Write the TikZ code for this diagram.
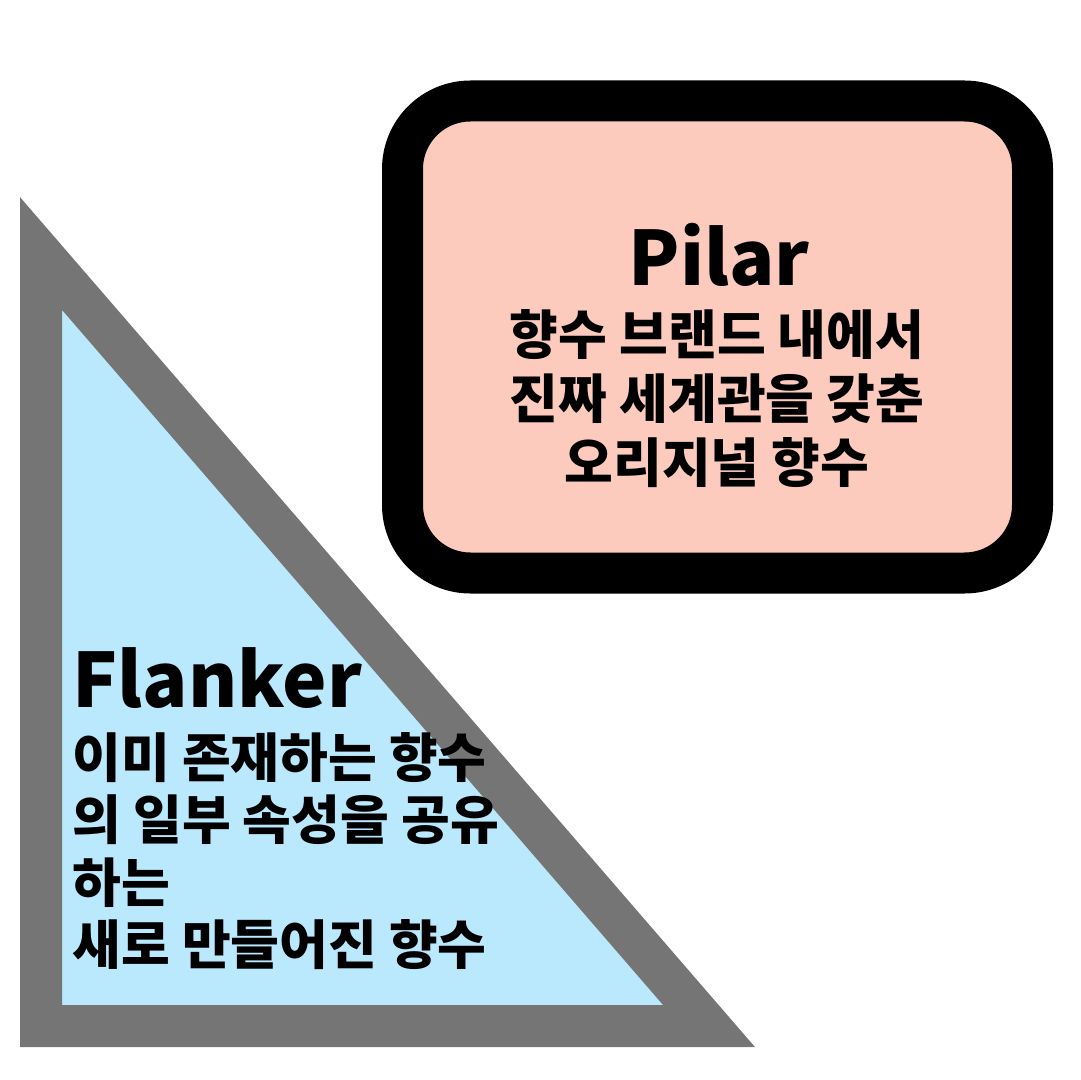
\documentclass[tikz,border=0pt]{standalone}
\usepackage{fontspec}
\setmainfont{Noto Sans CJK KR}
\usetikzlibrary{positioning}
\definecolor{pilarfill}{HTML}{FCCBBE}
\definecolor{flankerfill}{HTML}{BAE8FC}
\definecolor{flankerline}{HTML}{757575}
\tikzstyle{pilarbox} = [draw=black, fill=pilarfill, line width=20.5pt, rounded corners=34pt, rectangle, minimum width=315pt, minimum height=236pt, inner sep=0pt]
\tikzstyle{flankerbox} = [draw=flankerline, fill=flankerfill, line width=21pt, line join=miter]
\tikzstyle{pilartitle} = [font=\bfseries\fontsize{37.5}{44}\selectfont, inner sep=0pt, anchor=base]
\tikzstyle{flankertitle} = [font=\bfseries\fontsize{37.5}{44}\selectfont, inner sep=0pt, anchor=base west]
\tikzstyle{desc} = [font=\bfseries\fontsize{26.5}{32}\selectfont, inner sep=0pt]

\begin{document}
\begin{tikzpicture}[x=0.5pt, y=-0.5pt]
    \useasboundingbox (0,0) rectangle (1080,1080);

    % Shapes.
    \node (pilar) [pilarbox] at (717.5,337) {};
    \draw [flankerbox] (41,253.5) -- (41,1026) -- (709,1026) -- cycle;

    % Pilar.
    \node (pilarname) [pilartitle] at (719,286) {Pilar};
    \foreach\txt [count=\i] in {향수 브랜드 내에서, 진짜 세계관을 갖춘, 오리지널 향수} {
        \node (pilarline\i) [desc, anchor=base] at (717,{291.5+63.5*\i}) {\txt};
    }

    % Flanker.
    \node (flankername) [flankertitle] at (72,707) {Flanker};
    \foreach\txt [count=\i] in {이미 존재하는 향수, 의 일부 속성을 공유, 하는, 새로 만들어진 향수} {
        \node (flankerline\i) [desc, anchor=base west] at (72,{714.5+62.5*\i}) {\txt};
    }
\end{tikzpicture}
\end{document}
